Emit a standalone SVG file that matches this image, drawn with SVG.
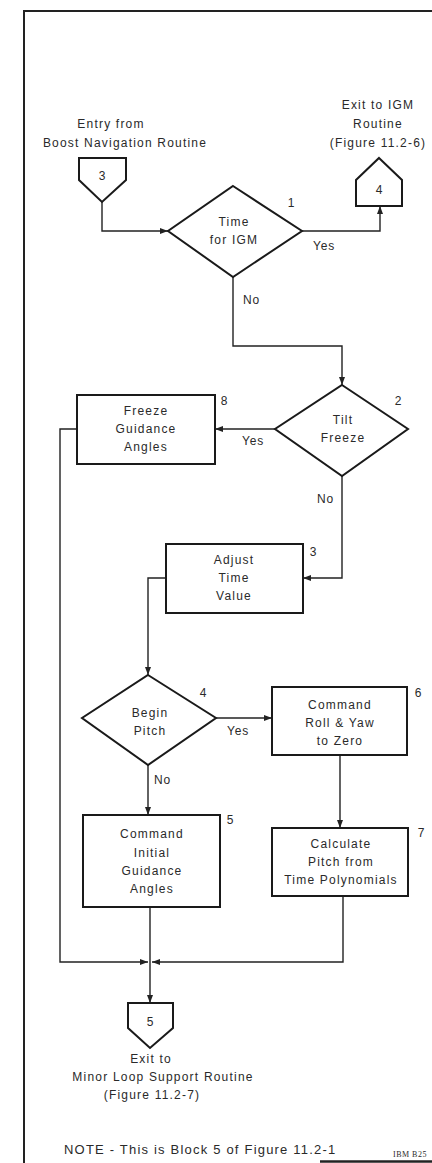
<svg xmlns="http://www.w3.org/2000/svg" width="432" height="1163" viewBox="0 0 432 1163">
<style>
.bg{fill:#ffffff}
.frame{fill:none;stroke:#222;stroke-width:2}
.shape{fill:#ffffff;stroke:#1a1a1a;stroke-width:2}
.conn{fill:none;stroke:#222;stroke-width:1.4}
text{font-family:"Liberation Sans",Arial,sans-serif;fill:#2a2a2a}
.t{font-size:12px;letter-spacing:1.2px;text-anchor:middle}
.lbl{font-size:12px;letter-spacing:0.8px}
.num{font-size:12px;text-anchor:middle}
.note{font-size:13px;letter-spacing:1.2px}
.ibm{font-family:"Liberation Serif",serif;font-size:8px;letter-spacing:0.5px}
</style>
<defs>
<marker id="arr" markerUnits="userSpaceOnUse" markerWidth="8" markerHeight="6" refX="8" refY="3" orient="auto">
<path d="M0,0 L8,3 L0,6 z" fill="#222"/>
</marker>
</defs>
<rect class="bg" x="0" y="0" width="432" height="1163"/>
<g id="frame">
<path class="frame" d="M24,1163 V11 H432"/>
<path d="M320,1161.5 H432" stroke="#222" stroke-width="2.5"/>
</g>

<g id="connectors">
<path class="conn" d="M102,202 V231 H168" marker-end="url(#arr)"/>
<path class="conn" d="M302,231 H380 V206" marker-end="url(#arr)"/>
<path class="conn" d="M233,277 V346 H342 V385" marker-end="url(#arr)"/>
<path class="conn" d="M275,429 H215" marker-end="url(#arr)"/>
<path class="conn" d="M342,476 V578 H303" marker-end="url(#arr)"/>
<path class="conn" d="M166,578 H148 V675" marker-end="url(#arr)"/>
<path class="conn" d="M216,718 H272" marker-end="url(#arr)"/>
<path class="conn" d="M148,765 V815" marker-end="url(#arr)"/>
<path class="conn" d="M340,755 V828" marker-end="url(#arr)"/>
<path class="conn" d="M77,429 H60 V962 H148" marker-end="url(#arr)"/>
<path class="conn" d="M150,907 V1003" marker-end="url(#arr)"/>
<path class="conn" d="M343,896 V962 H152" marker-end="url(#arr)"/>
<text class="lbl" x="313" y="250">Yes</text>
<text class="lbl" x="243" y="304">No</text>
<text class="lbl" x="242" y="445">Yes</text>
<text class="lbl" x="317" y="503">No</text>
<text class="lbl" x="227" y="735">Yes</text>
<text class="lbl" x="154" y="784">No</text>
</g>

<g id="entry">
<text class="t" x="111" y="128">Entry from</text>
<text class="t" x="125" y="147">Boost Navigation Routine</text>
<path class="shape" d="M79,158 H126 V180 L102,202 L79,180 Z"/>
<text class="num" x="102" y="180">3</text>
</g>

<g id="exit-igm">
<text class="t" x="378" y="109">Exit to IGM</text>
<text class="t" x="378" y="128">Routine</text>
<text class="t" x="378" y="147">(Figure 11.2-6)</text>
<path class="shape" d="M379,158 L402,180 V206 H356 V180 Z"/>
<text class="num" x="379" y="194">4</text>
</g>

<g id="n1">
<path class="shape" d="M233,186 L302,231 L233,277 L168,231 Z"/>
<text class="t" x="234" y="226">Time</text>
<text class="t" x="234" y="244">for IGM</text>
<text class="num" x="291" y="207">1</text>
</g>

<g id="n2">
<path class="shape" d="M342,385 L408,429 L342,476 L275,429 Z"/>
<text class="t" x="343" y="424">Tilt</text>
<text class="t" x="343" y="442">Freeze</text>
<text class="num" x="398" y="405">2</text>
</g>

<g id="n8">
<rect class="shape" x="77" y="395" width="138" height="69"/>
<text class="t" x="146" y="415">Freeze</text>
<text class="t" x="146" y="433">Guidance</text>
<text class="t" x="146" y="451">Angles</text>
<text class="num" x="224" y="405">8</text>
</g>

<g id="n3">
<rect class="shape" x="166" y="544" width="137" height="69"/>
<text class="t" x="234" y="564">Adjust</text>
<text class="t" x="234" y="582">Time</text>
<text class="t" x="234" y="600">Value</text>
<text class="num" x="313" y="556">3</text>
</g>

<g id="n4">
<path class="shape" d="M148,675 L216,718 L148,765 L82,718 Z"/>
<text class="t" x="150" y="717">Begin</text>
<text class="t" x="150" y="735">Pitch</text>
<text class="num" x="203" y="697">4</text>
</g>

<g id="n6">
<rect class="shape" x="272" y="687" width="135" height="68"/>
<text class="t" x="340" y="709">Command</text>
<text class="t" x="340" y="727">Roll &amp; Yaw</text>
<text class="t" x="340" y="745">to Zero</text>
<text class="num" x="418" y="697">6</text>
</g>

<g id="n5">
<rect class="shape" x="83" y="815" width="137" height="92"/>
<text class="t" x="152" y="838">Command</text>
<text class="t" x="152" y="857">Initial</text>
<text class="t" x="152" y="875">Guidance</text>
<text class="t" x="152" y="893">Angles</text>
<text class="num" x="230" y="824">5</text>
</g>

<g id="n7">
<rect class="shape" x="272" y="828" width="136" height="68"/>
<text class="t" x="341" y="848">Calculate</text>
<text class="t" x="341" y="866">Pitch from</text>
<text class="t" x="341" y="884">Time Polynomials</text>
<text class="num" x="421" y="837">7</text>
</g>

<g id="exit-minor">
<path class="shape" d="M128,1003 H173 V1028 L150,1048 L128,1028 Z"/>
<text class="num" x="150" y="1026">5</text>
<text class="t" x="151" y="1063">Exit to</text>
<text class="t" x="163" y="1081">Minor Loop Support Routine</text>
<text class="t" x="152" y="1099">(Figure 11.2-7)</text>
</g>

<g id="note">
<text class="note" x="64" y="1154">NOTE - This is Block 5 of Figure 11.2-1</text>
<text class="ibm" x="393" y="1157">IBM B25</text>
</g>
</svg>
